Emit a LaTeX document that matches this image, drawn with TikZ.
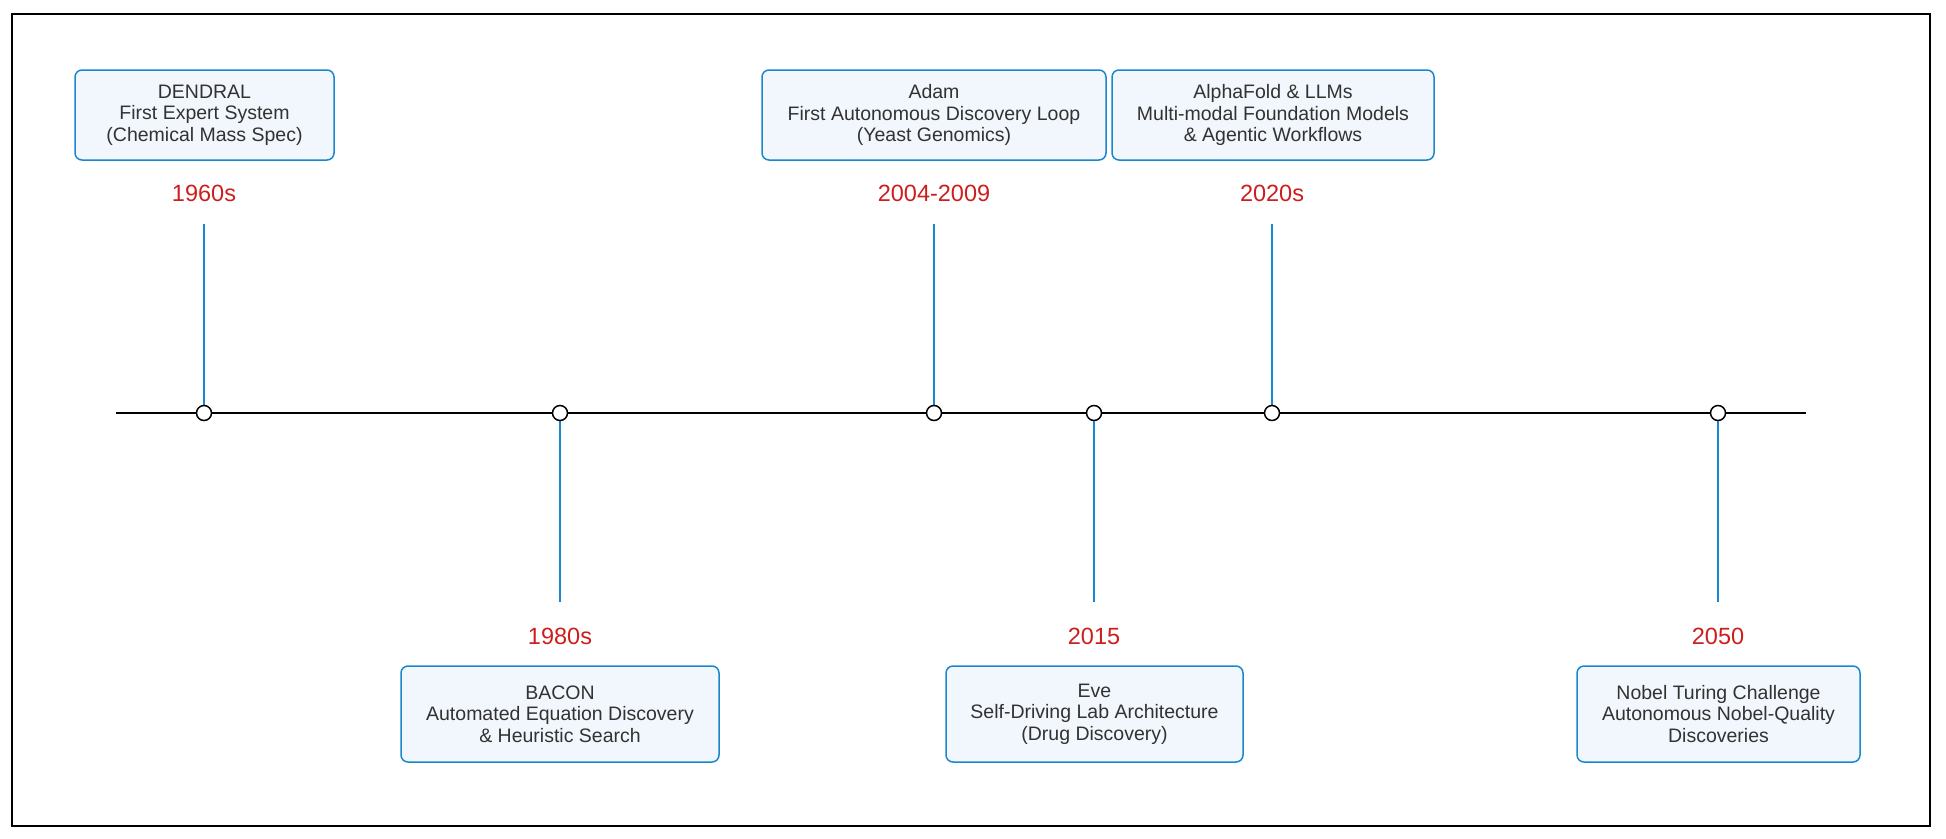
\documentclass[tikz,border=0pt]{standalone}
\usepackage{fontspec}
\setmainfont{Liberation Sans}
\definecolor{bl}{RGB}{25,135,205}
\definecolor{bfill}{RGB}{242,247,253}
\definecolor{yr}{RGB}{205,30,30}
\definecolor{tx}{RGB}{50,50,50}
\begin{document}
\begin{tikzpicture}[x=1pt,y=-1pt,
 box/.style={draw=bl,line width=1.5pt,fill=bfill,rounded corners=7pt,align=center,font=\fontsize{19.5}{21.5}\selectfont,text=tx,inner sep=0pt},
 yr/.style={text=yr,font=\fontsize{23.5}{26}\selectfont},
 stem/.style={bl,line width=2.5pt},
 dot/.style={circle,draw=black,fill=white,line width=1.5pt,minimum size=15pt,inner sep=0pt}]
\useasboundingbox (0,0) rectangle (1946,838);
\draw[line width=2.5pt] (12,14) rectangle (1930,826);
\coordinate (L) at (116,413); \coordinate (R) at (1806,413);
\draw[line width=2pt] (L) -- (R);
\foreach \n/\x/\d in {a/204/-1,b/560/1,c/934/-1,d/1094/1,e/1272/-1,f/1718/1}{
  \coordinate (s\n) at (\x,{413+\d*189});
  \draw[stem] (\x,413) -- (s\n);
  \node[dot] (p\n) at (\x,413) {};
}
\node[yr] (ya) at (204,193) {1960s};
\node[yr] (yc) at (934,193) {2004-2009};
\node[yr] (ye) at (1272,193) {2020s};
\node[yr] (yb) at (560,636) {1980s};
\node[yr] (yd) at (1094,636) {2015};
\node[yr] (yf) at (1718,636) {2050};
\node[box,minimum width=259pt,minimum height=90pt] (ba) at (204.5,115) {DENDRAL\\First Expert System\\(Chemical Mass Spec)};
\node[box,minimum width=344pt,minimum height=90pt] (bc) at (934,115) {Adam\\First Autonomous Discovery Loop\\(Yeast Genomics)};
\node[box,minimum width=322pt,minimum height=90pt] (be) at (1273,115) {AlphaFold \& LLMs\\Multi-modal Foundation Models\\\& Agentic Workflows};
\node[box,minimum width=318pt,minimum height=96pt] (bb) at (560,714) {BACON\\Automated Equation Discovery\\\& Heuristic Search};
\node[box,minimum width=297pt,minimum height=96pt] (bd) at (1094.5,714) {Eve\\Self-Driving Lab Architecture\\(Drug Discovery)};
\node[box,minimum width=283pt,minimum height=96pt] (bf) at (1718.5,714) {Nobel Turing Challenge\\Autonomous Nobel-Quality\\Discoveries};
\end{tikzpicture}
\end{document}
